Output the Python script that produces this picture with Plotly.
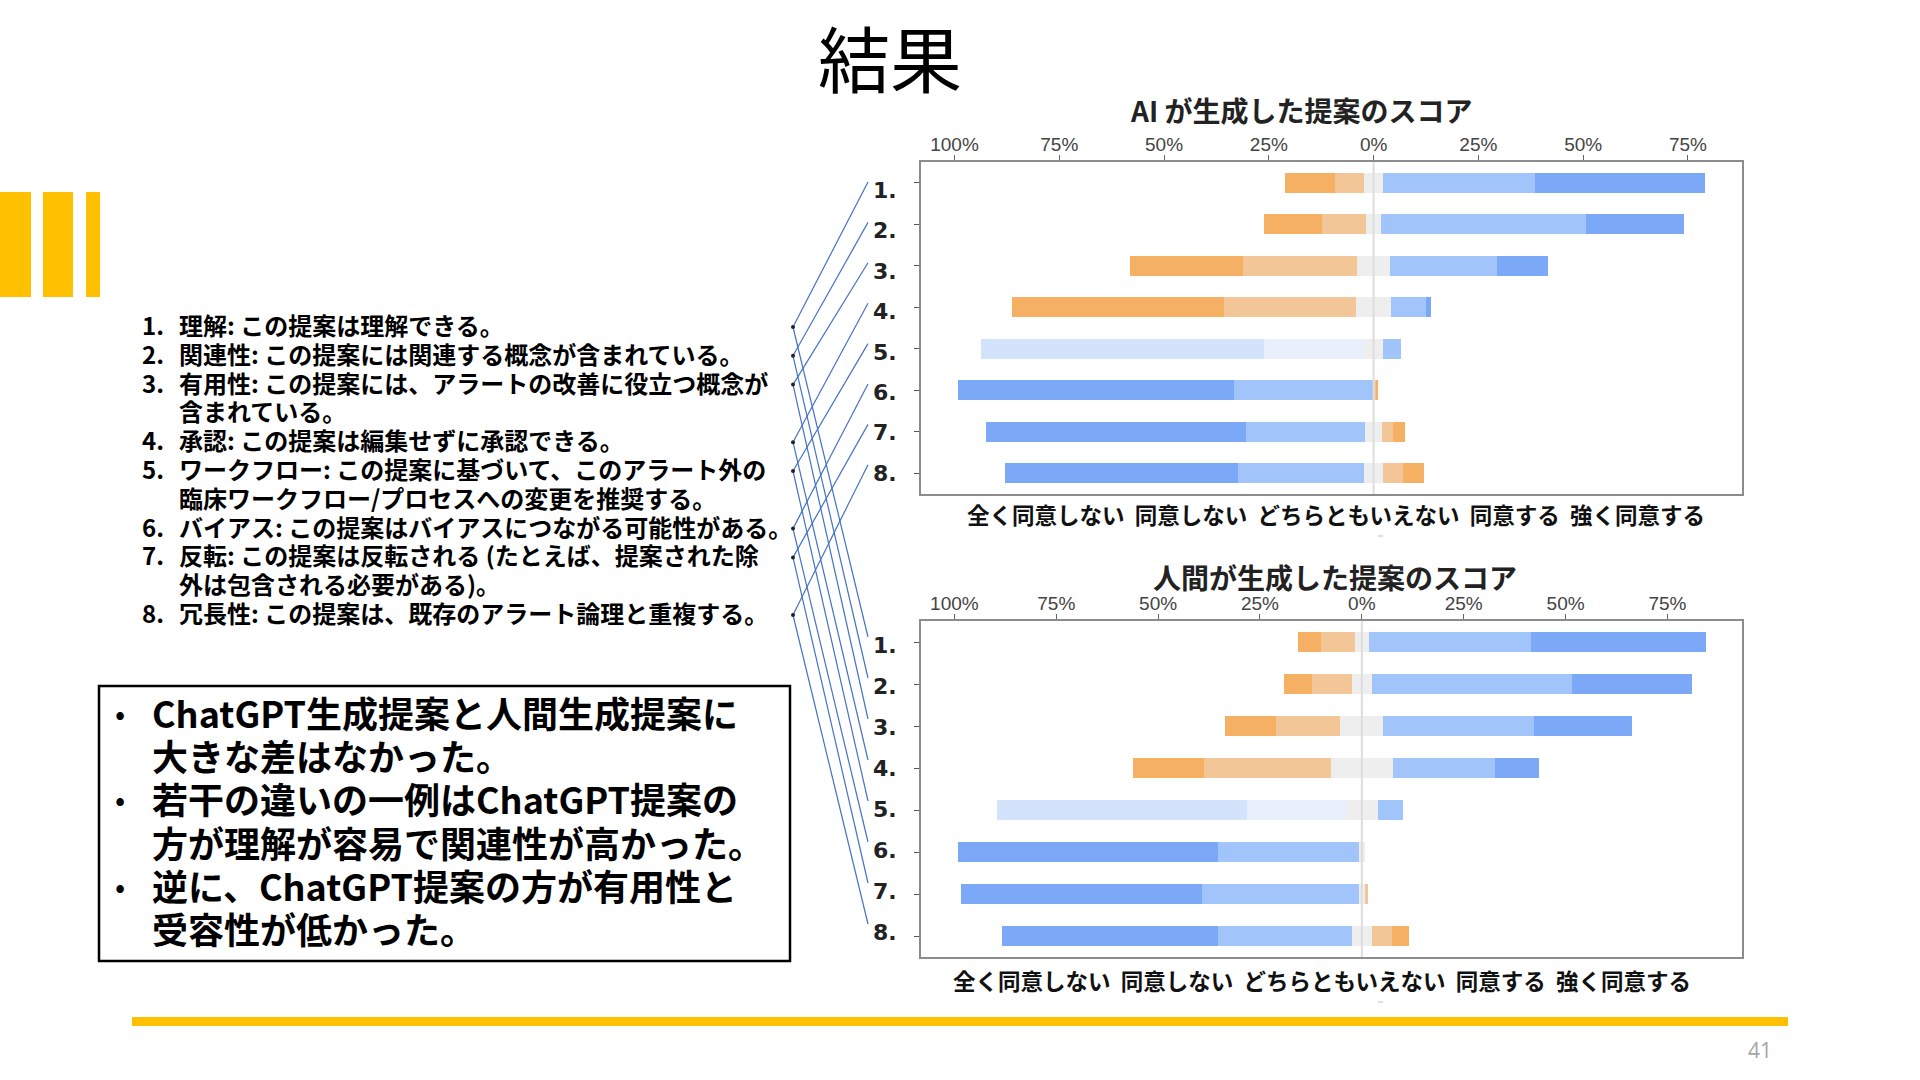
import plotly.graph_objects as go

# --- data (percent of responses, left-to-right segments) ---
rows = ['1.', '2.', '3.', '4.', '5.', '6.', '7.', '8.']
tick_vals = [-100, -75, -50, -25, 0, 25, 50, 75]
tick_text = ['100%', '75%', '50%', '25%', '0%', '25%', '50%', '75%']
scale_labels = ['全く同意しない', '同意しない', 'どちらともいえない', '同意する', '強く同意する']

ai_far_left = [11.9, 13.9, 27.0, 50.5, 67.5, 65.9, 62.1, 55.4]
ai_left = [6.9, 10.5, 27.2, 31.6, 24.0, 33.2, 28.5, 30.2]
ai_neutral = [4.5, 3.4, 8.0, 8.4, 4.5, 0.0, 4.0, 4.5]
ai_right = [36.3, 48.9, 25.5, 8.3, 4.2, 0.5, 2.7, 4.8]
ai_far_right = [40.6, 23.4, 12.2, 1.1, 0.0, 0.5, 2.8, 5.0]

hu_far_left = [5.7, 6.9, 12.6, 17.4, 61.3, 63.9, 59.0, 52.9]
hu_left = [8.2, 9.9, 15.8, 31.2, 24.3, 34.6, 38.6, 33.0]
hu_neutral = [3.5, 4.8, 10.5, 15.2, 8.0, 1.4, 1.4, 4.8]
hu_right = [39.8, 49.2, 37.0, 25.0, 6.2, 0.0, 0.8, 5.0]
hu_far_right = [42.8, 29.4, 24.0, 10.9, 0.0, 0.0, 0.0, 4.1]

items = [
    ('1.', ['理解: この提案は理解できる。']),
    ('2.', ['関連性: この提案には関連する概念が含まれている。']),
    ('3.', ['有用性: この提案には、アラートの改善に役立つ概念が', '含まれている。']),
    ('4.', ['承認: この提案は編集せずに承認できる。']),
    ('5.', ['ワークフロー: この提案に基づいて、このアラート外の', '臨床ワークフロー/プロセスへの変更を推奨する。']),
    ('6.', ['バイアス: この提案はバイアスにつながる可能性がある。']),
    ('7.', ['反転: この提案は反転される (たとえば、提案された除', '外は包含される必要がある)。']),
    ('8.', ['冗長性: この提案は、既存のアラート論理と重複する。']),
]

bullets = [
    ['ChatGPT生成提案と人間生成提案に', '大きな差はなかった。'],
    ['若干の違いの一例はChatGPT提案の', '方が理解が容易で関連性が高かった。'],
    ['逆に、ChatGPT提案の方が有用性と', '受容性が低かった。'],
]

W, H = 1920, 1080
JP = 'Noto Sans CJK JP'
GOLD = '#FFC000'
LINE_SPACING = 1.3  # plotly's line spacing for multi-line text

ORANGE = '#F5B063'
ORANGE_LT = '#F2C696'
GREY = '#EEEEEE'
BLUE_LT = '#A1C4FA'
BLUE = '#7BA9F7'
BLUE_PALE = '#D3E3FC'
BLUE_PALER = '#E8F0FE'


def px(x):
    return x / W


def py(y):
    return 1 - y / H


def row_colors(i):
    """Colors of the 5 segments (left to right) for row i."""
    if i < 4:
        return [ORANGE, ORANGE_LT, GREY, BLUE_LT, BLUE]
    if i == 4:
        return [BLUE_PALE, BLUE_PALER, GREY, BLUE_LT, BLUE]
    return [BLUE, BLUE_LT, GREY, ORANGE_LT, ORANGE]


def add_chart(fig, far_left, left, neutral, right, far_right, xa, ya):
    y = list(range(len(rows)))
    cols = [row_colors(i) for i in y]
    # relative stacking: negatives grow leftwards, positives rightwards, in trace order
    parts = [
        ([-n / 2 for n in neutral], 2),
        ([n / 2 for n in neutral], 2),
        ([-v for v in left], 1),
        (right, 3),
        ([-v for v in far_left], 0),
        (far_right, 4),
    ]
    for xs, k in parts:
        fig.add_trace(go.Bar(
            x=xs, y=y, orientation='h', width=0.48,
            marker=dict(color=[c[k] for c in cols], line=dict(width=0)),
            xaxis=xa, yaxis=ya, showlegend=False, hoverinfo='skip',
        ))


fig = go.Figure()
add_chart(fig, ai_far_left, ai_left, ai_neutral, ai_right, ai_far_right, 'x', 'y')
add_chart(fig, hu_far_left, hu_left, hu_neutral, hu_right, hu_far_right, 'x2', 'y2')

box_left, box_right = 921, 1742
# (box top, box bottom, x range, first row label y, row label step)
boxes = [(162, 494, [-108.0, 87.9], 190, 40.4), (621, 957, [-108.2, 93.3], 645, 41.0)]

xcommon = dict(
    tickvals=tick_vals, ticktext=tick_text, side='top', ticks='outside', ticklen=5,
    tickcolor='#666', tickfont=dict(family='Liberation Sans', size=19, color='#444'),
    ticklabelstandoff=-4,
    showgrid=False, showline=True, mirror=True, linecolor='#8c8c8c', linewidth=2,
    zeroline=False, fixedrange=True,
)
ycommon = dict(
    tickvals=list(range(len(rows))), showticklabels=False, range=[7.5, -0.5],
    ticks='outside', ticklen=5, tickcolor='#555',
    showgrid=False, showline=True, mirror=True, linecolor='#8c8c8c', linewidth=2,
    zeroline=False, fixedrange=True,
)

layout = dict(
    width=W, height=H, margin=dict(l=0, r=0, t=0, b=0),
    paper_bgcolor='white', plot_bgcolor='white', barmode='relative', bargap=0,
)
for n, (top, bottom, xr, _, _) in enumerate(boxes):
    sfx = '' if n == 0 else '2'
    layout['xaxis' + sfx] = dict(xcommon, domain=[px(box_left), px(box_right)], range=xr,
                                 anchor='y' + sfx)
    layout['yaxis' + sfx] = dict(ycommon, domain=[py(bottom), py(top)], anchor='x' + sfx)
fig.update_layout(**layout)

ann = []
shapes = []

# faint 0% line drawn over the bars
for sfx in ('', '2'):
    shapes.append(dict(type='line', xref='x' + sfx, yref=f'y{sfx} domain', x0=0, x1=0,
                       y0=0, y1=1, layer='above', line=dict(color='#dddddd', width=2)))


def text(x, y, s, size, xanchor='left', color='#000', family=JP, bold=False, box_h=None):
    a = dict(
        x=px(x), y=py(y), xref='paper', yref='paper', text=f'<b>{s}</b>' if bold else s,
        showarrow=False, xanchor=xanchor, yanchor='middle', borderpad=0,
        font=dict(family=family, size=size, color=color),
    )
    if box_h:
        a['height'] = box_h
    ann.append(a)


def block(x, y_first, lines, size, pitch, bold=True):
    """Multi-line text with glyph size `size` and line pitch `pitch` (px)."""
    b0, b1 = ('<b>', '</b>') if bold else ('', '')
    body = '<br>'.join(f'{b0}<span style="font-size:{size}px">{s}</span>{b1}' for s in lines)
    y_mid = y_first + (len(lines) - 1) * pitch / 2
    ann.append(dict(
        x=px(x), y=py(y_mid), xref='paper', yref='paper', text=body, showarrow=False,
        xanchor='left', yanchor='middle', align='left', borderpad=0,
        font=dict(family=JP, size=pitch / LINE_SPACING, color='#000'),
    ))


def rect(x0, y0, x1, y1, fill=None, line=None, width=0):
    shapes.append(dict(
        type='rect', xref='paper', yref='paper', x0=px(x0), x1=px(x1), y0=py(y0), y1=py(y1),
        fillcolor=fill or 'rgba(0,0,0,0)', line=dict(color=line or 'rgba(0,0,0,0)', width=width),
    ))


# slide title
text(890, 55, '結果', 72, xanchor='center')

# chart titles and scale captions
text(1301, 110, 'AI が生成した提案のスコア', 28, xanchor='center', color='#222', bold=True,
     box_h=30)
text(1335, 577, '人間が生成した提案のスコア', 28, xanchor='center', color='#222', bold=True,
     box_h=30)
caption = '  '.join(scale_labels)
text(1336, 514, caption, 22.5, xanchor='center', color='#111', bold=True)
text(1322, 980, caption, 22.5, xanchor='center', color='#111', bold=True)
for yy in (536, 1002):
    shapes.append(dict(type='line', xref='paper', yref='paper', x0=px(1378), x1=px(1383),
                       y0=py(yy), y1=py(yy), line=dict(color='#bbb', width=1)))

# numbered list of criteria
list_top, list_pitch = 324, 28.8
num_lines, txt_lines, dot_y = [], [], []
for num, parts in items:
    dot_y.append(list_top + len(txt_lines) * list_pitch + 3)
    for k, p in enumerate(parts):
        num_lines.append(num if k == 0 else '\u00a0')
        txt_lines.append(p)
block(141, list_top, num_lines, 24, list_pitch)
block(178, list_top, txt_lines, 24, list_pitch)

# row labels next to each chart, and connectors from the list to them
for top, bottom, _, lab0, lab_step in boxes:
    for i, dy in enumerate(dot_y):
        ly = lab0 + i * lab_step
        text(898, ly, rows[i], 22, xanchor='right', color='#222', family='DejaVu Sans',
             bold=True, box_h=30)
        shapes.append(dict(type='line', xref='paper', yref='paper', x0=px(793), y0=py(dy),
                           x1=px(868), y1=py(ly - 8), line=dict(color='#4472C4', width=1.2)))
for dy in dot_y:
    shapes.append(dict(type='circle', xref='paper', yref='paper', x0=px(791), x1=px(795),
                       y0=py(dy - 2), y1=py(dy + 2), fillcolor='#222', line=dict(width=0)))

# summary box
rect(99, 686, 790, 961, line='#000', width=2.5)
b_top, b_pitch = 712, 43.2
dots_col, b_lines = [], []
for b in bullets:
    for k, p in enumerate(b):
        dots_col.append('•' if k == 0 else '\u00a0')
        b_lines.append(p)
block(114, b_top, dots_col, 30, b_pitch, bold=False)
block(151, b_top, b_lines, 36, b_pitch)

# decorations
rect(0, 192, 31, 297, fill=GOLD)
rect(43, 192, 73, 297, fill=GOLD)
rect(86, 192, 100, 297, fill=GOLD)
rect(132, 1017, 1788, 1026, fill=GOLD)
text(1760, 1050, '41', 21, xanchor='center', color='#A6A6A6', family='Open Sans')

fig.update_layout(annotations=ann, shapes=shapes)
fig.write_html('out.html', config={'displayModeBar': False},
               post_script="document.body.style.margin='0';")
